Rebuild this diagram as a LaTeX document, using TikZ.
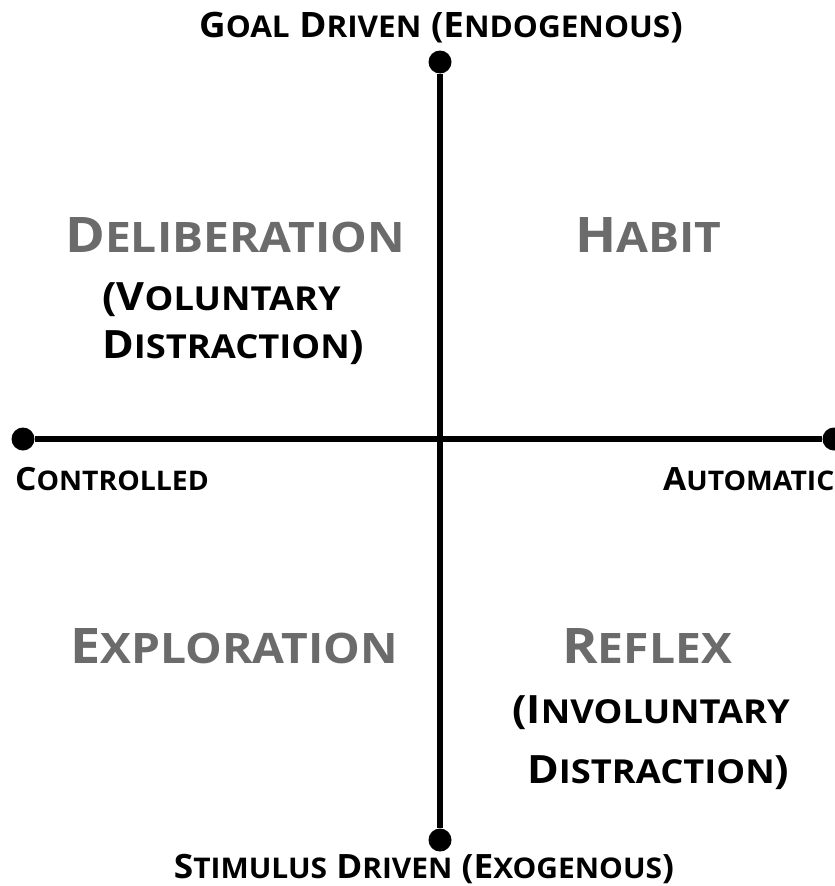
\documentclass[tikz,border=0pt]{standalone}
\usepackage{fontspec}
\setmainfont{Open Sans}
\newfontfamily\etire{Open Sans}[FakeStretch=1.1]
\newfontfamily\moyen{Open Sans}[FakeStretch=1.05]
\usetikzlibrary{positioning}

% petites capitales simulees
\newcommand{\bas}[1]{{\fontsize{\petit}{\petit}\selectfont #1}}

\tikzset{
  point/.style={circle,fill=black,inner sep=0pt,minimum size=23pt},
  axe/.style={line width=5.5pt},
  titre/.style={inner sep=0pt,anchor=base west,text=black!58,
    font={\etire\bfseries\fontsize{49}{49}\selectfont\def\petit{42}}},
  sous/.style={inner sep=0pt,anchor=base west,
    font={\etire\bfseries\fontsize{39}{39}\selectfont\def\petit{33}}},
  pole/.style={inner sep=0pt,anchor=base,
    font={\moyen\bfseries\fontsize{34}{34}\selectfont\def\petit{29}}},
  cote/.style={inner sep=0pt,anchor=base west,
    font={\moyen\bfseries\fontsize{32}{32}\selectfont\def\petit{27}}}
}

\begin{document}
\begin{tikzpicture}[x=1pt,y=-1pt]
\useasboundingbox[fill=white] (0,0) rectangle (835,886);
% points
\node[point] (haut) at (440,62) {};
\node[point] (basse) at (440,840) {};
\node[point] (gauche) at (23,439) {};
\node[point] (droite) at (834,439) {};
% axes
\draw[axe] (haut) -- (basse);
\draw[axe] (gauche) -- (droite);
% extremites
\node[pole,font={\moyen\bfseries\fontsize{35}{35}\selectfont\def\petit{30}}]
  (endo) at (441,37) {G\bas{OAL} D\bas{RIVEN} (E\bas{NDOGENOUS})};
\node[pole,font={\moyen\bfseries\fontsize{33.5}{33.5}\selectfont\def\petit{28.5}}]
  (exo) at (424,878) {S\bas{TIMULUS} D\bas{RIVEN} (E\bas{XOGENOUS})};
\node[cote] (ctrl) at (15,490) {C\bas{ONTROLLED}};
\node[cote] (auto) at (663,490) {A\bas{UTOMATIC}};
% quadrants
\node[titre] (delib) at (65,252) {D\bas{ELIBERATION}};
\node[sous] (volont) at (102,310) {(V\bas{OLUNTARY}};
\node[sous] (distr) at (102,358) {D\bas{ISTRACTION})};
\node[titre] (habit) at (575,252) {H\bas{ABIT}};
\node[titre] (explo) at (70,663) {E\bas{XPLORATION}};
\node[titre] (reflex) at (562,663) {R\bas{EFLEX}};
\node[sous] (involont) at (512,723) {(I\bas{NVOLUNTARY}};
\node[sous] (distrb) at (527,783) {D\bas{ISTRACTION})};
\end{tikzpicture}
\end{document}
